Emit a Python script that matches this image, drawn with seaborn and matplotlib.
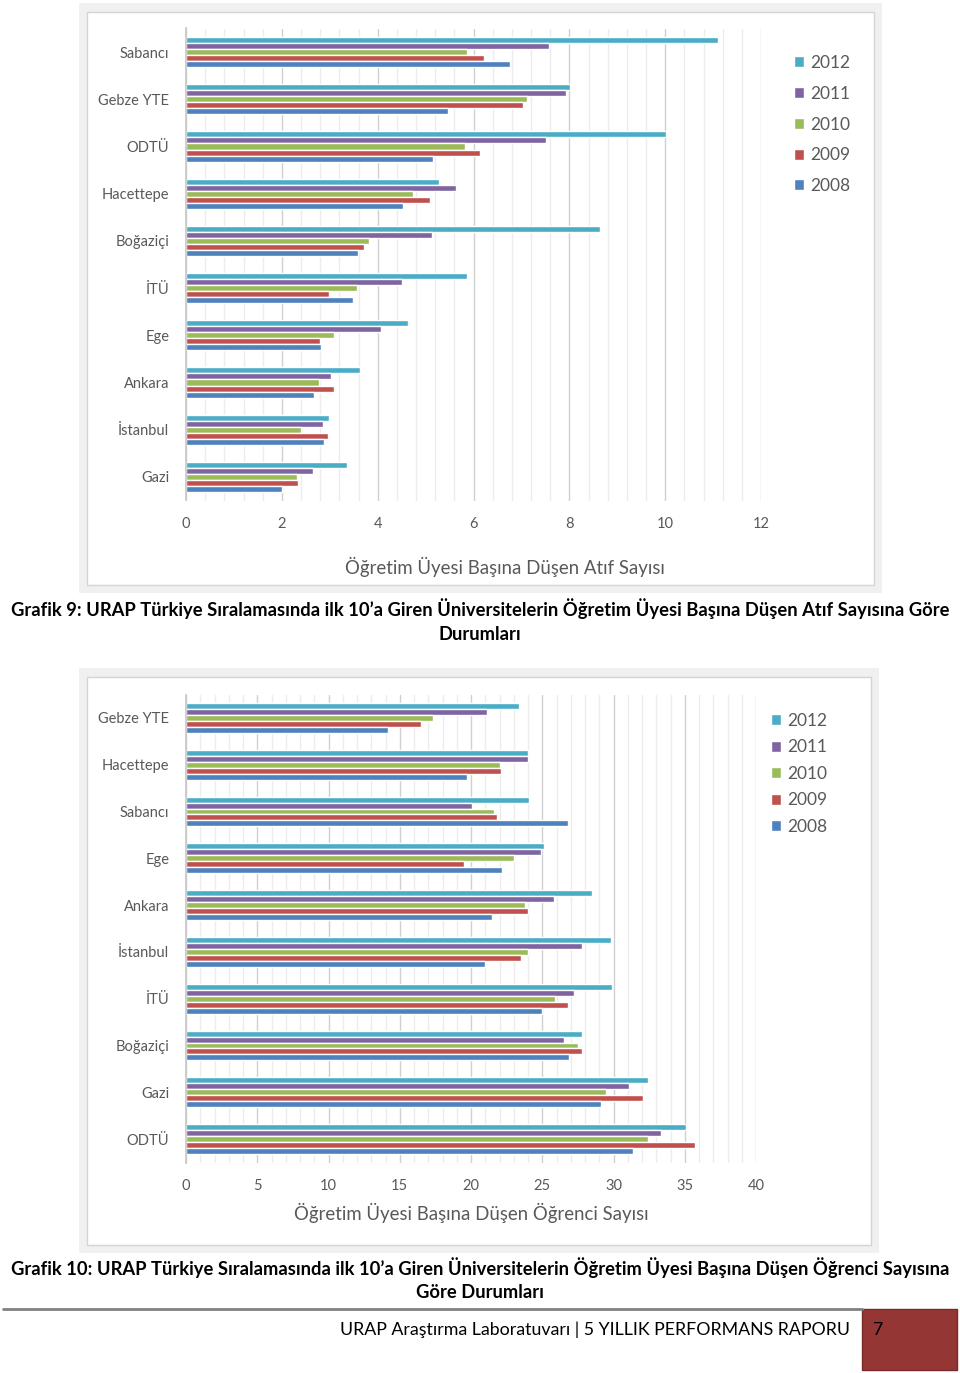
import matplotlib
matplotlib.use("Agg")
import matplotlib.pyplot as plt
import pandas as pd
import seaborn as sns
from matplotlib.patches import Rectangle
from matplotlib.ticker import MultipleLocator

W, H = 960, 1373

years = ["2012", "2011", "2010", "2009", "2008"]
year_colors = ["#4BACC6", "#8064A2", "#9BBB59", "#C0504D", "#4F81BD"]

# Grafik 9 - atıf sayısı
atif_unis = ["Sabancı", "Gebze YTE", "ODTÜ", "Hacettepe", "Boğaziçi",
             "İTÜ", "Ege", "Ankara", "İstanbul", "Gazi"]
atif_2012 = [11.10, 8.02, 10.01, 5.28, 8.64, 5.87, 4.63, 3.64, 2.99, 3.35]
atif_2011 = [7.57, 7.93, 7.52, 5.64, 5.14, 4.50, 4.07, 3.02, 2.85, 2.64]
atif_2010 = [5.87, 7.11, 5.82, 4.73, 3.81, 3.56, 3.08, 2.77, 2.39, 2.31]
atif_2009 = [6.22, 7.04, 6.13, 5.10, 3.71, 2.99, 2.80, 3.08, 2.96, 2.34]
atif_2008 = [6.76, 5.47, 5.16, 4.53, 3.59, 3.48, 2.82, 2.68, 2.87, 2.01]

# Grafik 10 - öğrenci sayısı
ogr_unis = ["Gebze YTE", "Hacettepe", "Sabancı", "Ege", "Ankara",
            "İstanbul", "İTÜ", "Boğaziçi", "Gazi", "ODTÜ"]
ogr_2012 = [23.4, 24.0, 24.1, 25.1, 28.5, 29.8, 29.9, 27.8, 32.4, 35.1]
ogr_2011 = [21.1, 24.0, 20.1, 24.9, 25.8, 27.8, 27.2, 26.5, 31.1, 33.3]
ogr_2010 = [17.3, 22.0, 21.6, 23.0, 23.8, 24.0, 25.9, 27.5, 29.5, 32.4]
ogr_2009 = [16.5, 22.1, 21.8, 19.5, 24.0, 23.5, 26.8, 27.8, 32.1, 35.7]
ogr_2008 = [14.2, 19.7, 26.8, 22.2, 21.5, 21.0, 25.0, 26.9, 29.1, 31.4]

GRAY = "#595959"


def long_frame(unis, series):
    rows = []
    for year, vals in zip(years, series):
        for u, v in zip(unis, vals):
            rows.append({"uni": u, "year": year, "value": v})
    return pd.DataFrame(rows)


def rect(x0, y0, x1, y1):
    # pixel box (top-left origin) -> figure coords
    return [x0 / W, 1 - y1 / H, (x1 - x0) / W, (y1 - y0) / H]


def frame(fig, outer, inner):
    x0, y0, x1, y1 = outer
    fig.patches.append(Rectangle((x0 / W, 1 - y1 / H), (x1 - x0) / W, (y1 - y0) / H,
                                 transform=fig.transFigure, facecolor="#f0f0f0",
                                 edgecolor="none", zorder=-2))
    x0, y0, x1, y1 = inner
    fig.patches.append(Rectangle((x0 / W, 1 - y1 / H), (x1 - x0) / W, (y1 - y0) / H,
                                 transform=fig.transFigure, facecolor="white",
                                 edgecolor="#d4d4d4", lw=1, zorder=-1))


def bar_chart(fig, box, df, unis, xmax, major, minor, title, title_xy,
              leg_xy, leg_space):
    ax = fig.add_axes(rect(*box))
    sns.barplot(data=df, x="value", y="uni", hue="year", order=unis,
                hue_order=years, palette=year_colors, orient="h",
                width=0.64, gap=0, saturation=1, ax=ax, errorbar=None)
    ax.set_xlim(0, xmax)
    ax.set_facecolor("none")
    ax.xaxis.set_major_locator(MultipleLocator(major))
    ax.xaxis.set_minor_locator(MultipleLocator(minor))
    ax.grid(axis="x", which="major", color="#d0d0d0", lw=1)
    ax.grid(axis="x", which="minor", color="#ececec", lw=1)
    ax.set_axisbelow(True)
    for s in ["top", "right", "bottom"]:
        ax.spines[s].set_visible(False)
    ax.spines["left"].set_color("#c8c8c8")
    ax.tick_params(axis="x", which="both", length=4, color="#e0e0e0",
                   labelsize=10.5, labelcolor=GRAY, pad=8)
    ax.tick_params(axis="y", length=0, labelsize=10.5, labelcolor=GRAY, pad=12)
    ax.set_xlabel("")
    ax.set_ylabel("")
    handles, labels = ax.get_legend_handles_labels()
    ax.legend_.remove()
    fig.legend(handles, labels, loc="upper left",
               bbox_to_anchor=(leg_xy[0] / W, 1 - leg_xy[1] / H),
               frameon=False, fontsize=12.5, labelcolor=GRAY,
               handlelength=0.6, handleheight=0.6, handletextpad=0.35,
               labelspacing=leg_space, borderpad=0, borderaxespad=0)
    fig.text(title_xy[0] / W, 1 - title_xy[1] / H, title, ha="center",
             va="center", fontsize=13.4, color=GRAY)
    return ax


sns.set_theme(style="white")
plt.rcParams["font.family"] = ["Lato", "DejaVu Sans"]

fig = plt.figure(figsize=(W / 100, H / 100), dpi=100)

# Grafik 9
frame(fig, (79, 3, 882, 593), (87, 12, 874, 585))
atif_df = long_frame(atif_unis, [atif_2012, atif_2011, atif_2010, atif_2009, atif_2008])
bar_chart(fig, (186, 28.5, 761, 500.5), atif_df, atif_unis, 12, 2, 0.4,
          "Öğretim Üyesi Başına Düşen Atıf Sayısı", (505, 567),
          (794, 55), 0.85)

CAP = 13.2
fig.text(480 / W, 1 - 609 / H,
         "Grafik 9: URAP Türkiye Sıralamasında ilk 10’a Giren Üniversitelerin Öğretim Üyesi Başına Düşen Atıf Sayısına Göre",
         ha="center", va="center", fontsize=CAP, fontweight="bold", color="black")
fig.text(480 / W, 1 - 634 / H, "Durumları", ha="center", va="center",
         fontsize=CAP, fontweight="bold", color="black")

# Grafik 10
frame(fig, (79, 668, 879, 1253), (87, 677, 871, 1245))
ogr_df = long_frame(ogr_unis, [ogr_2012, ogr_2011, ogr_2010, ogr_2009, ogr_2008])
bar_chart(fig, (186, 694.5, 756, 1162.5), ogr_df, ogr_unis, 40, 5, 1,
          "Öğretim Üyesi Başına Düşen Öğrenci Sayısı", (471, 1213),
          (771, 713), 0.6)

fig.text(480 / W, 1 - 1268 / H,
         "Grafik 10: URAP Türkiye Sıralamasında ilk 10’a Giren Üniversitelerin Öğretim Üyesi Başına Düşen Öğrenci Sayısına",
         ha="center", va="center", fontsize=CAP, fontweight="bold", color="black")
fig.text(480 / W, 1 - 1293 / H, "Göre Durumları", ha="center", va="center",
         fontsize=CAP, fontweight="bold", color="black")

# sayfa altlığı
fig.add_artist(plt.Line2D([3 / W, 862 / W], [1 - 1309 / H, 1 - 1309 / H],
                          transform=fig.transFigure, color="#808080", lw=2))
fig.patches.append(Rectangle((862 / W, 1 - 1370 / H), 95 / W, 61 / H,
                             transform=fig.transFigure, facecolor="#943634",
                             edgecolor="#7a2a28", lw=1))
fig.text(850 / W, 1 - 1330 / H,
         "URAP Araştırma Laboratuvarı | 5 YILLIK PERFORMANS RAPORU",
         ha="right", va="center", fontsize=12.8, color="black")
fig.text(873 / W, 1 - 1330 / H, "7", ha="left", va="center",
         fontsize=12.8, color="black")

fig.savefig("out.png", dpi=100)
